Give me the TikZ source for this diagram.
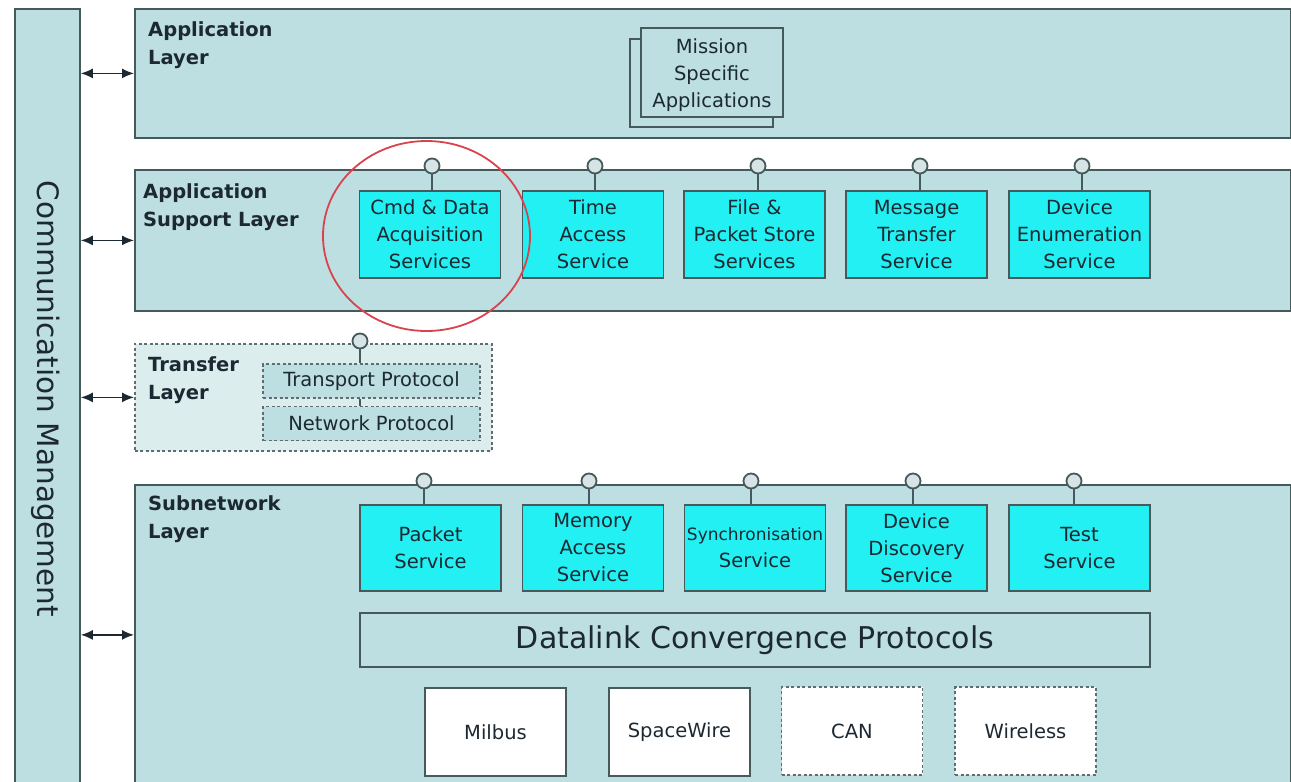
\documentclass[tikz,border=0pt]{standalone}
\usepackage{fontspec}
\setmainfont{DejaVu Sans}
\usetikzlibrary{arrows.meta,shapes.geometric}
\definecolor{layerfill}{HTML}{BEDFE1}
\definecolor{xferfill}{HTML}{DCEDEE}
\definecolor{svcfill}{HTML}{22F0F2}
\definecolor{edge}{HTML}{465A5C}
\definecolor{dashedge}{HTML}{5E6E70}
\definecolor{ink}{HTML}{1C2832}
\definecolor{lollyfill}{HTML}{D6E4E5}
\definecolor{ringred}{HTML}{D8434E}
\tikzset{
  layer/.style={draw=edge, fill=layerfill, line width=1.8pt, inner sep=0pt, anchor=north west},
  xferbox/.style={draw=dashedge, fill=xferfill, line width=1.8pt, dash pattern=on 3pt off 2.5pt, inner sep=0pt, anchor=north west},
  lbl/.style={font=\fontsize{19.5}{28}\selectfont\bfseries, text=ink, align=left, inner sep=0pt, anchor=north west},
  body/.style={font=\fontsize{19.5}{27}\selectfont, text=ink, align=center, inner sep=0pt},
  svc/.style={body, draw=edge, fill=svcfill, line width=1.8pt, minimum width=141pt, minimum height=87pt},
  proto/.style={body, draw=dashedge, fill=layerfill, line width=1.8pt, dash pattern=on 3pt off 2.5pt, minimum width=217pt, minimum height=34pt},
  phys/.style={body, draw=edge, fill=white, line width=1.8pt, minimum width=141pt, minimum height=88pt},
  physdash/.style={phys, draw=dashedge, dash pattern=on 3pt off 2.5pt},
  lolly/.style={circle, draw=edge, fill=lollyfill, line width=1.8pt, minimum size=15pt, inner sep=0pt},
  stem/.style={draw=edge, line width=1.8pt},
  biarrow/.style={draw=ink, line width=1.6pt, {Latex[length=12pt,width=10pt]}-{Latex[length=12pt,width=10pt]}},
}
\begin{document}
\begin{tikzpicture}[x=1pt,y=-1pt]
\useasboundingbox (0,0) rectangle (1291,782);
\clip (0,0) rectangle (1291,782);
\fill[white] (0,0) rectangle (1291,782);

% Communication management bar
\node[layer, minimum width=65pt, minimum height=800pt] (cm) at (14,8) {};
\node[rotate=-90, font=\fontsize{29.5}{34}\selectfont, text=ink, inner sep=0pt] (cmtext) at (46,399) {Communication Management};

% Layers
\node[layer, minimum width=1156pt, minimum height=129pt] (app) at (134,8) {};
\node[layer, minimum width=1156pt, minimum height=141pt] (sup) at (134,169) {};
\node[xferbox, minimum width=357pt, minimum height=107pt] (xfer) at (134,343) {};
\node[layer, minimum width=1156pt, minimum height=300pt] (sub) at (134,484) {};

% Layer labels
\node[lbl] (appl) at (148,21) {Application\\Layer};
\node[lbl] (supl) at (143,183) {Application\\Support Layer};
\node[lbl] (xferl) at (148,356) {Transfer\\Layer};
\node[lbl] (subl) at (148,495) {Subnetwork\\Layer};

% Arrows to communication management
\draw[biarrow] (cm.east |- app.west) -- (app.west);
\draw[biarrow] (cm.east |- sup.west) -- (sup.west);
\draw[biarrow] (cm.east |- xfer.west) -- (xfer.west);
\draw[biarrow] (cm.east |- sub.west) -- (sub.west);

% Mission specific applications (stacked)
\node[draw=edge, fill=layerfill, line width=1.8pt, minimum width=143pt, minimum height=88pt] (msback) at (701.5,83) {};
\node[draw=edge, fill=layerfill, line width=1.8pt, minimum width=142pt, minimum height=89pt] (ms) at (712,72.5) {};
\node[body] (mstext) at (712,75) {Mission\\Specific\\Applications};

% Application support services
\node[svc] (cmd) at (430,234.5) {Cmd \& Data\\Acquisition\\Services};
\node[svc] (time) at (593,234.5) {Time\\Access\\Service};
\node[svc] (file) at (754.5,234.5) {File \&\\Packet Store\\Services};
\node[svc] (msg) at (916.5,234.5) {Message\\Transfer\\Service};
\node[svc] (enum) at (1079.5,234.5) {Device\\Enumeration\\Service};

\foreach \nm/\xx in {cmd/432, time/595, file/758, msg/920, enum/1082} {
  \node[lolly] (l\nm) at (\xx,166) {};
  \draw[stem] (l\nm.south) -- (l\nm.south |- \nm.north);
}

% Transfer layer protocols
\node[proto] (tp) at (371.5,381) {Transport Protocol};
\node[proto] (np) at (371.5,423.5) {Network Protocol};
\node[lolly] (ltp) at (360,341) {};
\draw[stem] (ltp.south) -- (ltp.south |- tp.north);
\draw[stem] (ltp.south |- tp.south) -- (ltp.south |- np.north);

% Subnetwork services
\node[svc, minimum height=86pt] (pkt) at (430.5,548) {Packet\\Service};
\node[svc, minimum height=86pt] (mem) at (593,548) {Memory\\Access\\Service};
\node[svc, minimum height=86pt] (sync) at (755,548) {{\fontsize{17}{27}\selectfont Synchronisation}\\Service};
\node[svc, minimum height=86pt] (disc) at (916.5,548) {Device\\Discovery\\Service};
\node[svc, minimum height=86pt] (test) at (1079.5,548) {Test\\Service};

\foreach \nm/\xx in {pkt/424, mem/589, sync/751, disc/913, test/1074} {
  \node[lolly] (l\nm) at (\xx,481) {};
  \draw[stem] (l\nm.south) -- (l\nm.south |- \nm.north);
}

% Datalink convergence protocols
\node[draw=edge, fill=layerfill, line width=1.8pt, minimum width=790pt, minimum height=54pt, font=\fontsize{30}{34}\selectfont, text=ink, inner sep=0pt] (dcp) at (755,640) {Datalink Convergence Protocols};

% Physical links
\node[phys] (milbus) at (495.5,732) {Milbus};
\node[phys] (spw) at (679.5,732) {SpaceWire};
\node[physdash] (can) at (852,731) {CAN};
\node[physdash] (wl) at (1025.5,731) {Wireless};

% Highlight ring
\node[draw=ringred, line width=1.8pt, ellipse, minimum width=207pt, minimum height=190pt, inner sep=0pt] (ring) at (426.5,236) {};
\end{tikzpicture}
\end{document}
